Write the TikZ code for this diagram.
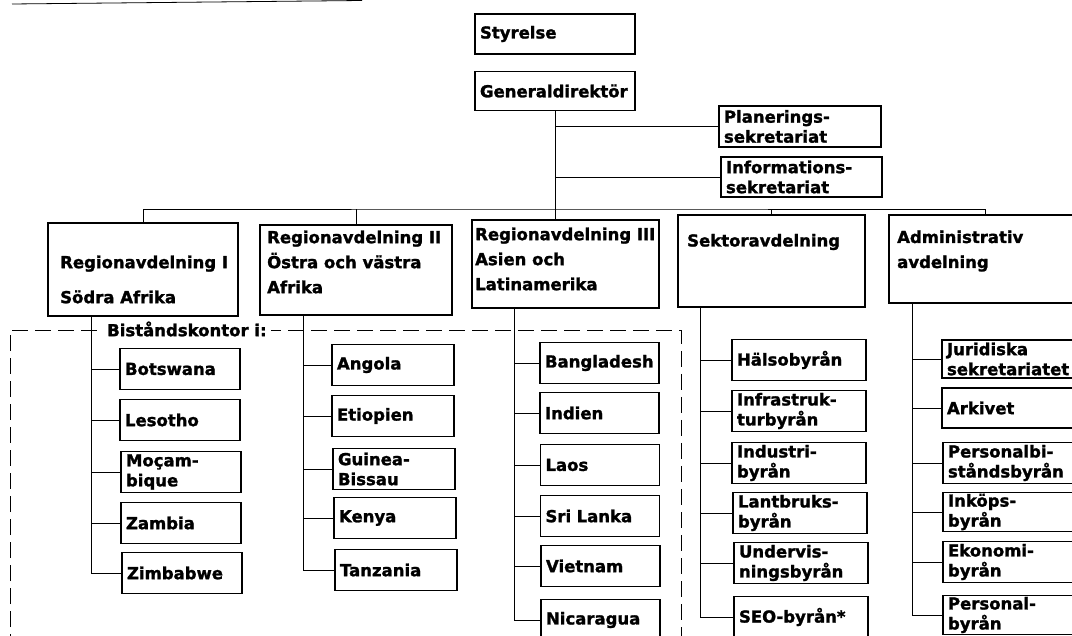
\documentclass[tikz,border=0pt]{standalone}
\usepackage{fontspec}
\setmainfont{DejaVu Sans}[BoldFeatures={FakeBold=1.5}]
\usetikzlibrary{positioning}

\begin{document}
\begin{tikzpicture}[x=1pt, y=-1pt,
  box/.style={draw, line width=1.1pt, inner xsep=5pt, inner ysep=0pt,
              align=left, font=\fontsize{16.5}{20}\selectfont\bfseries},
  kontor/.style={box, text width=#1, minimum height=41pt},
  avd/.style={draw, line width=1.1pt},
  avdtext/.style={anchor=west, align=left, inner sep=0pt,
                  font=\fontsize{16.5}{25}\selectfont\bfseries},
  link/.style={line width=0.8pt},
  ram/.style={line width=0.9pt, dash pattern=on 16pt off 7pt}
]
  \useasboundingbox (0,0) rectangle (1072,636);
  \clip (0,0) rectangle (1072,636);
  \draw[line width=0.8pt] (12,4) -- (362,0.5);

  % ledning
  \node[box, text width=150pt, minimum height=40pt] (styrelse) at (555,34) {Styrelse};
  \node[box, text width=150pt, minimum height=39pt] (gd) at (555,91) {Generaldirektör};
  \node[box, text width=152pt, minimum height=41pt] (plan) at (800,126.5) {Planerings-\\sekretariat};
  \node[box, text width=151pt, minimum height=40pt] (info) at (801.5,177) {Informations-\\sekretariat};

  % avdelningar
  \node[avd, minimum width=190pt, minimum height=93pt] (reg1) at (143,269.5) {};
  \node[avdtext] (reg1txt) at (60,279.5) {Regionavdelning I\\[10pt]Södra Afrika};
  \node[avd, minimum width=192pt, minimum height=90pt] (reg2) at (356,270) {};
  \node[avdtext] (reg2txt) at (267,262) {Regionavdelning II\\Östra och västra\\Afrika};
  \node[avd, minimum width=187pt, minimum height=88pt] (reg3) at (565.5,264) {};
  \node[avdtext] (reg3txt) at (475,259) {Regionavdelning III\\Asien och\\Latinamerika};
  \node[avd, minimum width=187pt, minimum height=92pt] (sektor) at (771.5,261) {};
  \node[avdtext] (sektortxt) at (687,242) {Sektoravdelning};
  \node[avd, minimum width=192pt, minimum height=88pt] (admin) at (985,259) {};
  \node[avdtext] (admintxt) at (897,251) {Administrativ\\avdelning};

  % bistandskontor, ram
  \draw[ram] (10,650) |- (681,330) -- (681,650);
  \node[anchor=west, fill=white, inner xsep=4pt, inner ysep=2pt,
        font=\fontsize{16.5}{20}\selectfont\bfseries] (bistand) at (103,329) {Biståndskontor i:};

  % region I
  \node[kontor=110pt] (botswana) at (180,369) {Botswana};
  \node[kontor=110pt] (lesotho) at (180,420) {Lesotho};
  \node[kontor=110pt] (mocambique) at (181,472) {Moçam-\\bique};
  \node[kontor=110pt] (zambia) at (181,523) {Zambia};
  \node[kontor=110pt] (zimbabwe) at (182,573) {Zimbabwe};

  % region II
  \node[kontor=112pt] (angola) at (393,365) {Angola};
  \node[kontor=112pt] (etiopien) at (393,416) {Etiopien};
  \node[kontor=112pt] (guinea) at (394,469) {Guinea-\\Bissau};
  \node[kontor=112pt] (kenya) at (395,518) {Kenya};
  \node[kontor=112pt] (tanzania) at (396,570) {Tanzania};

  % region III
  \node[kontor=109pt] (bangladesh) at (599.5,363) {Bangladesh};
  \node[kontor=109pt] (indien) at (599.5,413) {Indien};
  \node[kontor=109pt] (laos) at (600,465) {Laos};
  \node[kontor=109pt] (srilanka) at (600,516) {Sri Lanka};
  \node[kontor=109pt] (vietnam) at (600.5,566) {Vietnam};
  \node[kontor=109pt] (nicaragua) at (600.5,620) {Nicaragua};

  % sektor
  \node[kontor=124pt] (halso) at (799,360) {Hälsobyrån};
  \node[kontor=124pt] (infra) at (799,411) {Infrastruk-\\turbyrån};
  \node[kontor=124pt] (industri) at (799,463) {Industri-\\byrån};
  \node[kontor=124pt] (lantbruk) at (800,513) {Lantbruks-\\byrån};
  \node[kontor=124pt] (undervis) at (801,563) {Undervis-\\ningsbyrån};
  \node[kontor=124pt] (seo) at (801,617) {SEO-byrån*};

  % administration
  \node[kontor=128pt, minimum height=38pt] (juridiska) at (1011,359) {Juridiska\\sekretariatet};
  \node[kontor=128pt, minimum height=40pt] (arkivet) at (1011,408) {Arkivet};
  \node[kontor=128pt] (personalbi) at (1012,463) {Personalbi-\\ståndsbyrån};
  \node[kontor=128pt, minimum height=39pt] (inkop) at (1012,512) {Inköps-\\byrån};
  \node[kontor=128pt] (ekonomi) at (1012,562) {Ekonomi-\\byrån};
  \node[kontor=128pt, minimum height=39pt] (personal) at (1012,615) {Personal-\\byrån};

  % linjer
  \coordinate (bus) at (555,209);
  \draw[link] (gd.south) -- (gd.south |- reg3.north);
  \draw[link] (gd.south |- plan.west) -- (plan.west);
  \draw[link] (gd.south |- info.west) -- (info.west);
  \draw[link] (reg1.north) |- (bus) -| (admin.north);
  \draw[link] (reg2.north) -- (reg2.north |- bus);
  \draw[link] (sektor.north) -- (sektor.north |- bus);

  \coordinate (r1t) at ([xshift=44pt]reg1.south west);
  \coordinate (r2t) at ([xshift=44pt]reg2.south west);
  \coordinate (r3t) at ([xshift=43pt]reg3.south west);
  \coordinate (r4t) at ([xshift=23pt]sektor.south west);
  \coordinate (r5t) at ([xshift=24pt]admin.south west);

  \draw[link] (r1t) |- (zimbabwe.west);
  \foreach \n in {botswana,lesotho,mocambique,zambia}
    \draw[link] (r1t |- \n.west) -- (\n.west);
  \draw[link] (r2t) |- (tanzania.west);
  \foreach \n in {angola,etiopien,guinea,kenya}
    \draw[link] (r2t |- \n.west) -- (\n.west);
  \draw[link] (r3t) |- (nicaragua.west);
  \foreach \n in {bangladesh,indien,laos,srilanka,vietnam}
    \draw[link] (r3t |- \n.west) -- (\n.west);
  \draw[link] (r4t) |- (seo.west);
  \foreach \n in {halso,infra,industri,lantbruk,undervis}
    \draw[link] (r4t |- \n.west) -- (\n.west);
  \draw[link] (r5t) |- (personal.west);
  \foreach \n in {juridiska,arkivet,personalbi,inkop,ekonomi}
    \draw[link] (r5t |- \n.west) -- (\n.west);
\end{tikzpicture}
\end{document}
